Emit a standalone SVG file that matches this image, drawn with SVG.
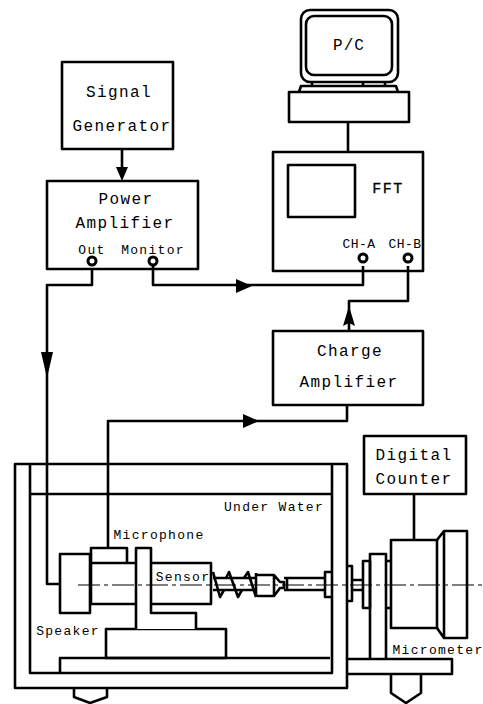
<svg xmlns="http://www.w3.org/2000/svg" width="483" height="704" viewBox="0 0 483 704">
<style>
.s{fill:none;stroke:#000;stroke-width:2.6;stroke-linejoin:round}
.f{fill:#fff;stroke:#000;stroke-width:2.6;stroke-linejoin:round}
.c{fill:#fff;stroke:#000;stroke-width:3}
.a{fill:#000;stroke:none}
.d{fill:none;stroke:#000;stroke-width:1.2;stroke-dasharray:22 4 4 4}
text{font-family:"Liberation Mono","DejaVu Sans Mono",monospace;font-size:14px;fill:#000;text-anchor:middle}
.b{font-size:16px;letter-spacing:1.4px}
.m{font-size:13px;letter-spacing:1.3px}
.n{font-size:13px;letter-spacing:.5px}
</style>
<rect width="483" height="704" fill="#fff"/>
<g id="connectors">
<path class="s" d="M348 122V152"/>
<path class="s" d="M122 149V172"/><path class="a" d="M116 167H128L122 181Z"/>
<path class="s" d="M92 269V285H47V584H60"/><path class="a" d="M47 378L41 352H53Z"/>
<path class="s" d="M153 266V285H363V266"/><path class="a" d="M252 286L236 279V293Z"/>
<path class="s" d="M408 266V301H349V331"/><path class="a" d="M349 306L343 326L349 323L355 326Z"/>
<path class="s" d="M347 405V421H108V548"/><path class="a" d="M259 421L243 414V428Z"/>
<path class="s" d="M414 494V540"/>
</g>
<g id="pc">
<rect class="s" x="301" y="10" width="97" height="72" rx="9"/>
<rect class="s" x="306" y="16" width="86" height="59" rx="8"/>
<path class="s" d="M312 82V87M385 82V87M363 83V87"/>
<path class="s" d="M299 92L301 86H396L398 92"/>
<rect class="s" x="289" y="92" width="120" height="30"/>
<text x="349" y="50" style="font-size:16px;letter-spacing:1px">P/C</text>
</g>
<g id="signal-generator">
<rect class="s" x="62" y="62" width="111" height="87"/>
<text class="b" x="119" y="97">Signal</text>
<text class="b" x="122" y="131">Generator</text>
</g>
<g id="power-amplifier">
<rect class="s" x="47" y="181" width="151" height="88"/>
<text class="b" x="126" y="204">Power</text>
<text class="b" x="125" y="228">Amplifier</text>
<text class="m" x="92" y="254">Out</text>
<text class="m" x="153" y="254">Monitor</text>
<circle class="c" cx="92" cy="261" r="4"/>
<circle class="c" cx="153" cy="261" r="4"/>
</g>
<g id="fft">
<rect class="s" x="273" y="152" width="150" height="119"/>
<rect class="s" x="288" y="165" width="67" height="52"/>
<text x="388" y="193" style="font-size:15px;letter-spacing:1.5px;stroke:#000;stroke-width:.3">FFT</text>
<text class="n" x="359" y="248">CH-A</text>
<text class="n" x="405" y="248">CH-B</text>
<circle class="c" cx="363" cy="258" r="4"/>
<circle class="c" cx="408" cy="258" r="4"/>
</g>
<g id="charge-amplifier">
<rect class="s" x="273" y="331" width="150" height="74"/>
<text class="b" x="350" y="356">Charge</text>
<text class="b" x="349" y="387">Amplifier</text>
</g>
<g id="digital-counter">
<rect class="s" x="364" y="436" width="102" height="58"/>
<text class="b" x="414" y="460">Digital</text>
<text class="b" x="414" y="484">Counter</text>
</g>
<g id="tank">
<path class="s" d="M15 464H347V688H15Z"/>
<path class="s" d="M332 464V673H30V464M30 494H332"/>
<text class="m" x="274" y="511">Under Water</text>
</g>
<g id="feet">
<path class="s" d="M74 688V697L90 703L107 697V688"/>
<path class="s" d="M391 674V693L406 703L421 693V674"/>
</g>
<g id="base">
<path class="s" d="M60 673V658H330M347 659H452V674H347"/>
<rect class="s" x="106" y="629" width="120" height="29"/>
<path class="f" d="M136 629V548H151V613H196V629"/>
</g>
<g id="speaker">
<rect class="s" x="60" y="554" width="30" height="59"/>
<path class="s" d="M91 563H136M91 604H136M91 563V604"/>
<text class="m" x="68" y="635">Speaker</text>
</g>
<g id="microphone">
<path class="s" d="M91 563V548H127V563"/>
<text class="m" x="159" y="539">Microphone</text>
</g>
<g id="sensor">
<path class="s" d="M151 563H211V604H151"/>
<text class="m" x="183" y="581">Sensor</text>
<path class="s" d="M213 578H256M213 590H256"/>
<path class="s" d="M213 572L220 597L224 590M226 578L229 572L238 597L242 590M244 578L248 572L256 597"/>
<path class="s" d="M256 573V597M257 575H274L280 582H284V588H280L274 596H257M274 575V596"/>
<path class="s" d="M284 578H287V590H284M287 578H325M287 590H325"/>
<path class="s" d="M332 572H325V597H332"/>
</g>
<g id="micrometer">
<path class="s" d="M347 566H352V601H347"/>
<path class="s" d="M352 580H363M352 590H363"/>
<rect class="s" x="363" y="561" width="7" height="47"/>
<path class="s" d="M370 659V554H386V659"/>
<path class="s" d="M386 561H391M386 608H391"/>
<rect class="s" x="391" y="540" width="46" height="88"/>
<path class="s" d="M437 540L444 531H467V638H444L437 628M444 531V638"/>
<text class="m" x="438" y="654">Micrometer</text>
</g>
<path id="centerline" class="d" d="M78 585H483"/>
</svg>
